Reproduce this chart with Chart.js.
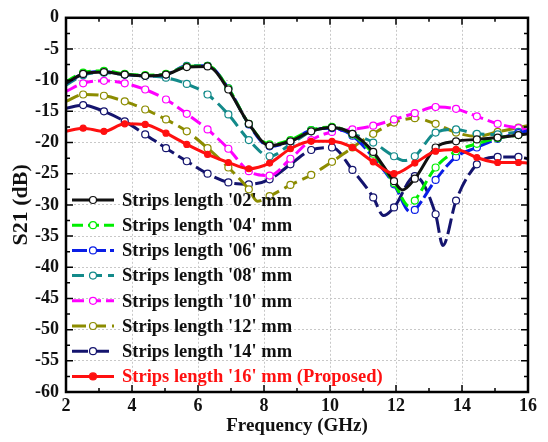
<!DOCTYPE html>
<html lang="en">
<head>
    <meta charset="UTF-8">
    <title>S21 vs Frequency</title>
    <script src="https://cdn.jsdelivr.net/npm/chart.js"></script>
    <style>
        body { margin: 0; background: #fff; }
        #wrap { width: 548px; height: 442px; }
    </style>
</head>
<body>
    <div id="wrap"><canvas id="s21Chart"></canvas></div>

    <script>
        // Frequencies (GHz): start, marker positions, end
        const freq = [2, 2.52, 3.15, 3.78, 4.4, 5.03, 5.66, 6.29, 6.92, 7.54, 8.17, 8.8, 9.43,
                      10.06, 10.68, 11.31, 11.94, 12.57, 13.2, 13.82, 14.45, 15.08, 15.71, 16];

        // S21 (dB) for each strip length, read at the frequencies above
        const s02 = [-10.5, -9, -8.7, -9.1, -9.3, -9.1, -7.9, -7.8, -11.5, -17, -20.5, -19.8, -18.2,
                     -17.6, -18.6, -21.5, -26.2, -25.8, -20.8, -19.8, -19.5, -19.2, -18.8, -18.6];
        const s04 = [-10.2, -8.8, -8.5, -9, -9.2, -9, -7.8, -7.7, -11.3, -17, -20.3, -19.6, -18,
                     -17.5, -18.7, -21.8, -26.5, -29.3, -24, -21.4, -20.2, -19.3, -18.8, -18.5];
        const s06 = [-10.5, -9, -8.6, -9.1, -9.3, -9.1, -7.7, -7.7, -11.3, -17.1, -20.6, -19.8, -18,
                     -17.7, -18.9, -22.4, -26.7, -30.8, -26, -22.3, -20.8, -19.4, -18.5, -18.1];
        const s08 = [-10.8, -9.2, -8.8, -9.1, -9.3, -9.6, -10.6, -12.3, -15.5, -19.6, -22.2, -20.3, -18.2,
                     -17.6, -18.6, -20, -22.2, -22.2, -18.4, -17.9, -18.6, -18.7, -18.3, -18.2];
        const s10 = [-11.8, -10.5, -10.1, -10.5, -11.5, -13.1, -15.4, -17.9, -21, -24.6, -25.3, -22.6, -19.6,
                     -18.3, -17.9, -17.3, -16.3, -15.3, -14.3, -14.6, -15.8, -17, -17.7, -18];
        const s12 = [-13.4, -12.3, -12.5, -13.4, -14.7, -16.3, -18.2, -20.9, -24, -27.5, -28.6, -26.8, -25.2,
                     -23.1, -20.8, -18.6, -16.8, -16.1, -17, -18.4, -19, -18.3, -17.6, -17.3];
        const s14 = [-14.5, -14, -15, -16.6, -18.7, -20.9, -23, -25, -26.4, -26.7, -25.9, -23.5, -21.2,
                     -20.8, -24.4, -28.8, -30.4, -25.4, -31.5, -29.3, -23.5, -22.3, -22.3, -22.6];
        const s16 = [-18.2, -17.7, -18.2, -17, -17.1, -18.5, -20.3, -21.9, -23.2, -24.2, -23.3, -21, -19.8,
                     -19.8, -20.8, -23.1, -25, -23.3, -21.4, -21.1, -22.4, -23.2, -23.2, -23.3];

        // extra points (no marker) at resonance dips: [GHz, dB]
        const dip02 = [[12.2, -27.6]];
        const dip04 = [[12.4, -30.2]];
        const dip06 = [[12.45, -31.2]];
        const dip08 = [[12.25, -22.9]];
        const dip12 = [[7.8, -29.4]];
        const dip14 = [[11.62, -31.7], [13.42, -36.5]];

        const labels = ["Strips length '02' mm", "Strips length '04' mm", "Strips length '06' mm",
                        "Strips length '08' mm", "Strips length '10' mm", "Strips length '12' mm",
                        "Strips length '14' mm", "Strips length '16' mm (Proposed)"];
        const colors = ['#111111', '#00ee00', '#0a1ee6', '#138a8a', '#ff00ff', '#8c8c00', '#14146e', '#ff1010'];
        const dashes = [[], [11, 5], [15, 4], [12, 6], [12, 5], [14, 6], [16, 5], []];
        const values = [s02, s04, s06, s08, s10, s12, s14, s16];
        const dips = [dip02, dip04, dip06, dip08, [], dip12, dip14, []];

        function buildPoints(vals, extra) {
            const pts = vals.map((v, i) => ({ x: freq[i], y: v, m: i > 0 && i < freq.length - 1 }));
            extra.forEach(p => pts.push({ x: p[0], y: p[1], m: false }));
            return pts.sort((a, b) => a.x - b.x);
        }

        const datasets = values.map((vals, i) => {
            const proposed = i === 7;
            return {
                label: labels[i],
                data: buildPoints(vals, dips[i]),
                borderColor: colors[i],
                borderWidth: 3,
                borderDash: dashes[i],
                cubicInterpolationMode: 'monotone',
                pointStyle: 'circle',
                pointRadius: ctx => (ctx.raw && ctx.raw.m ? (proposed ? 3 : 3.5) : 0),
                pointBackgroundColor: proposed ? colors[i] : '#ffffff',
                pointBorderColor: colors[i],
                pointBorderWidth: 1.2,
                order: proposed ? 0 : i + 1
            };
        });

        const serif = '"Liberation Serif", "Times New Roman", serif';

        // frame with inward ticks and the legend drawn inside the plot
        const framePlugin = {
            id: 'framePlugin',
            afterDraw(chart) {
                const { ctx, chartArea: a, scales: { x, y } } = chart;
                ctx.save();
                ctx.strokeStyle = '#000';
                ctx.lineWidth = 1.5;
                ctx.setLineDash([]);
                ctx.beginPath();
                for (let f = 2; f <= 16; f += 1) {
                    const px = x.getPixelForValue(f);
                    const len = f % 2 === 0 ? 7 : 4;
                    ctx.moveTo(px, a.bottom); ctx.lineTo(px, a.bottom - len);
                    ctx.moveTo(px, a.top); ctx.lineTo(px, a.top + len);
                }
                for (let v = 0; v >= -60; v -= 2.5) {
                    const py = y.getPixelForValue(v);
                    const len = v % 5 === 0 ? 7 : 4;
                    ctx.moveTo(a.left, py); ctx.lineTo(a.left + len, py);
                    ctx.moveTo(a.right, py); ctx.lineTo(a.right - len, py);
                }
                ctx.stroke();
                ctx.lineWidth = 2.5;
                ctx.strokeRect(a.left, a.top, a.right - a.left, a.bottom - a.top);

                // legend
                ctx.font = 'bold 18.5px ' + serif;
                ctx.textBaseline = 'middle';
                chart.data.datasets.forEach((ds, i) => {
                    const ly = 200 + i * 25.2;
                    ctx.strokeStyle = ds.borderColor;
                    ctx.lineWidth = 3;
                    ctx.setLineDash(ds.borderDash);
                    ctx.beginPath();
                    ctx.moveTo(72, ly); ctx.lineTo(114, ly);
                    ctx.stroke();
                    ctx.setLineDash([]);
                    ctx.beginPath();
                    ctx.arc(93, ly, 3.5, 0, Math.PI * 2);
                    ctx.fillStyle = i === 7 ? ds.borderColor : '#fff';
                    ctx.fill();
                    ctx.lineWidth = 1.2;
                    ctx.stroke();
                    ctx.fillStyle = i === 7 ? '#ff1010' : '#111';
                    ctx.fillText(ds.label, 122, ly + 1);
                });
                ctx.restore();
            }
        };

        new Chart(document.getElementById('s21Chart'), {
            type: 'line',
            data: { datasets: datasets },
            options: {
                responsive: true,
                maintainAspectRatio: false,
                animation: false,
                layout: { padding: { left: 0, right: 20, top: 16, bottom: 0 } },
                plugins: {
                    legend: { display: false },
                    tooltip: { enabled: false }
                },
                scales: {
                    x: {
                        type: 'linear',
                        min: 2,
                        max: 16,
                        afterFit: s => { s.height = 50; },
                        ticks: { stepSize: 2, color: '#111', padding: 4, font: { family: serif, size: 18, weight: 'bold' } },
                        grid: { color: '#c8c8c8', lineWidth: 1, drawTicks: false },
                        border: { display: false, dash: [2, 2] },
                        title: { display: true, text: 'Frequency (GHz)', color: '#111', padding: { top: 0, bottom: 5 },
                                 font: { family: serif, size: 19, weight: 'bold' } }
                    },
                    y: {
                        min: -60,
                        max: 0,
                        afterFit: s => { s.width = 66; },
                        ticks: { stepSize: 5, color: '#111', padding: 7, font: { family: serif, size: 18, weight: 'bold' } },
                        grid: { color: '#c8c8c8', lineWidth: 1, drawTicks: false },
                        border: { display: false, dash: [2, 2] },
                        title: { display: true, text: 'S21 (dB)', color: '#111', padding: { top: 8, bottom: 0 },
                                 font: { family: serif, size: 22, weight: 'bold' } }
                    }
                }
            },
            plugins: [framePlugin]
        });
    </script>
</body>
</html>
